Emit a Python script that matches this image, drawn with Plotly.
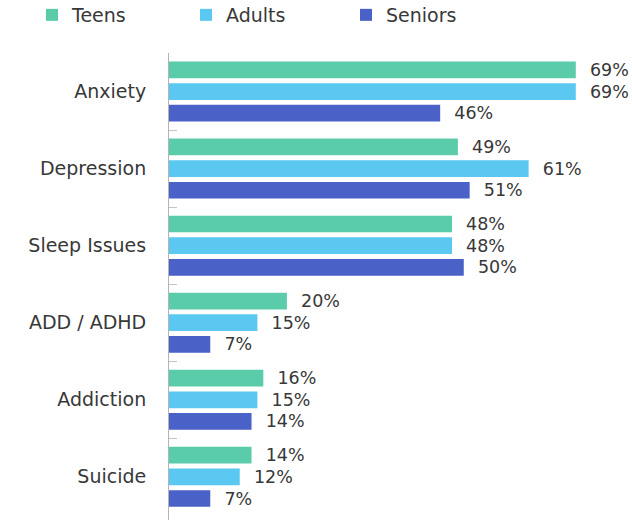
import plotly.graph_objects as go

# Share of respondents reporting each concern, by age group (%)
categories = ["Anxiety", "Depression", "Sleep Issues", "ADD / ADHD", "Addiction", "Suicide"]
teens = [69, 49, 48, 20, 16, 14]
adults = [69, 61, 48, 15, 15, 12]
seniors = [46, 51, 50, 7, 14, 7]

series = [
    ("Teens", teens, "#5ACCAA"),
    ("Adults", adults, "#5AC8F0"),
    ("Seniors", seniors, "#4A62C8"),
]

FONT = "DejaVu Sans"
TEXT_COLOR = "#383838"

# one single-entry legend per series, laid out in a row across the top
legend_ids = ["legend", "legend2", "legend3"]
legend_left_px = [32, 186, 346]

fig = go.Figure()
for (name, values, color), lid in zip(series, legend_ids):
    fig.add_trace(go.Bar(
        name=name,
        y=categories,
        x=values,
        orientation="h",
        legend=lid,
        marker=dict(color=color, line=dict(width=0)),
        texttemplate="\u00a0\u00a0%{x}%",
        textposition="outside",
        textfont=dict(family=FONT, size=17.5, color=TEXT_COLOR),
        cliponaxis=False,
        constraintext="none",
        hoverinfo="skip",
    ))

legend_style = {}
for lid, left in zip(legend_ids, legend_left_px):
    legend_style[lid] = dict(
        orientation="h",
        xref="container",
        yref="container",
        x=left / 632,
        y=1 - 15 / 520,
        xanchor="left",
        yanchor="middle",
        font=dict(family=FONT, size=19, color=TEXT_COLOR),
        bgcolor="rgba(0,0,0,0)",
    )

fig.update_layout(
    width=632,
    height=520,
    margin=dict(l=169, r=12, t=53, b=0),
    paper_bgcolor="white",
    plot_bgcolor="white",
    barmode="group",
    bargap=0.156,
    bargroupgap=0.23,
    font=dict(family=FONT, color=TEXT_COLOR),
    showlegend=True,
    xaxis=dict(
        range=[0, 76.5],
        visible=False,
        fixedrange=True,
    ),
    yaxis=dict(
        type="category",
        categoryorder="array",
        categoryarray=categories,
        range=[5.56, -0.5],
        showline=True,
        linecolor="#b4b4b4",
        linewidth=1,
        ticks="inside",
        tickson="boundaries",
        ticklen=8,
        tickcolor="#c4c4c4",
        tickwidth=1,
        showgrid=False,
        zeroline=False,
        ticklabelstandoff=18,
        tickfont=dict(family=FONT, size=19, color=TEXT_COLOR),
        fixedrange=True,
    ),
    **legend_style,
)

fig.write_html("out.html")
